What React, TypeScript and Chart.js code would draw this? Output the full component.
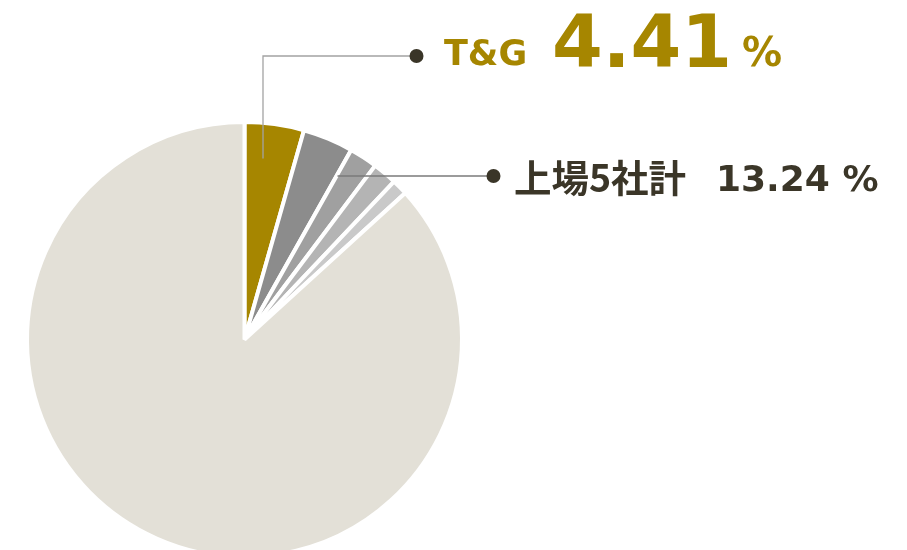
import React, { useEffect, useRef } from "react";
import { Chart, registerables } from "chart.js";

Chart.register(...registerables);

const categories = ["T&G", "上場B社", "上場C社", "上場D社", "上場E社", "その他"];
const shares = [4.41, 3.75, 2.1, 1.8, 1.18, 86.76];
const sliceColors = ["#a68600", "#8c8c8c", "#a0a0a0", "#b4b4b4", "#c9c9c9", "#e3e0d7"];
const tgLabel = "T&G";
const tgValue = "4.41";
const totalLabel = "上場5社計";
const totalValue = "13.24 %";

const labelPlugin = {
  id: "labels",
  afterDraw(chart: any) {
    const ctx = chart.ctx;
    const arc = chart.getDatasetMeta(0).data[0];
    const cx = arc.x;
    const cy = arc.y;
    ctx.save();
    // T&G leader
    ctx.strokeStyle = "#a3a3a3";
    ctx.lineWidth = 1.3;
    ctx.beginPath();
    ctx.moveTo(cx + 18.5, cy - 181);
    ctx.lineTo(cx + 18.5, cy - 283.5);
    ctx.lineTo(cx + 172, cy - 283.5);
    ctx.stroke();
    ctx.fillStyle = "#3a3528";
    ctx.beginPath();
    ctx.arc(cx + 172, cy - 283.5, 7, 0, Math.PI * 2);
    ctx.fill();
    // total leader
    ctx.strokeStyle = "#7a7a7a";
    ctx.beginPath();
    ctx.moveTo(cx + 93, cy - 163.5);
    ctx.lineTo(cx + 249, cy - 163.5);
    ctx.stroke();
    ctx.beginPath();
    ctx.arc(cx + 249, cy - 163.5, 7, 0, Math.PI * 2);
    ctx.fill();

    ctx.textBaseline = "alphabetic";
    ctx.textAlign = "left";
    ctx.fillStyle = "#a68600";
    ctx.font = "bold 35px 'DejaVu Sans'";
    ctx.fillText(tgLabel, 444, 65);
    ctx.font = "bold 73px 'DejaVu Sans'";
    ctx.fillText(tgValue, 552, 67);
    ctx.font = "bold 40px 'DejaVu Sans'";
    ctx.fillText("%", 742, 66);

    ctx.fillStyle = "#3b3628";
    ctx.font = "bold 37.5px 'Noto Sans CJK JP'";
    ctx.fillText(totalLabel, 514, 192);
    ctx.font = "bold 36px 'DejaVu Sans'";
    ctx.fillText(totalValue, 716, 191);
    ctx.restore();
  },
};

export default function App() {
  const ref = useRef<HTMLCanvasElement | null>(null);
  useEffect(() => {
    if (!ref.current) return;
    const chart = new Chart(ref.current, {
      type: "pie",
      data: {
        labels: categories,
        datasets: [
          {
            data: shares,
            backgroundColor: sliceColors,
            borderColor: "#ffffff",
            borderWidth: 4,
          },
        ],
      },
      options: {
        animation: false,
        responsive: false,
        maintainAspectRatio: false,
        layout: { padding: { left: 25, top: 120, right: 443, bottom: 41 } },
        plugins: { legend: { display: false }, tooltip: { enabled: false } },
      },
      plugins: [labelPlugin],
    });
    return () => chart.destroy();
  }, []);
  return (
    <div style={{ position: "fixed", left: 0, top: 0, width: 907, height: 550, overflow: "hidden", background: "#fff" }}>
      <canvas ref={ref} width={907} height={600} style={{ width: 907, height: 600, display: "block" }} />
    </div>
  );
}
